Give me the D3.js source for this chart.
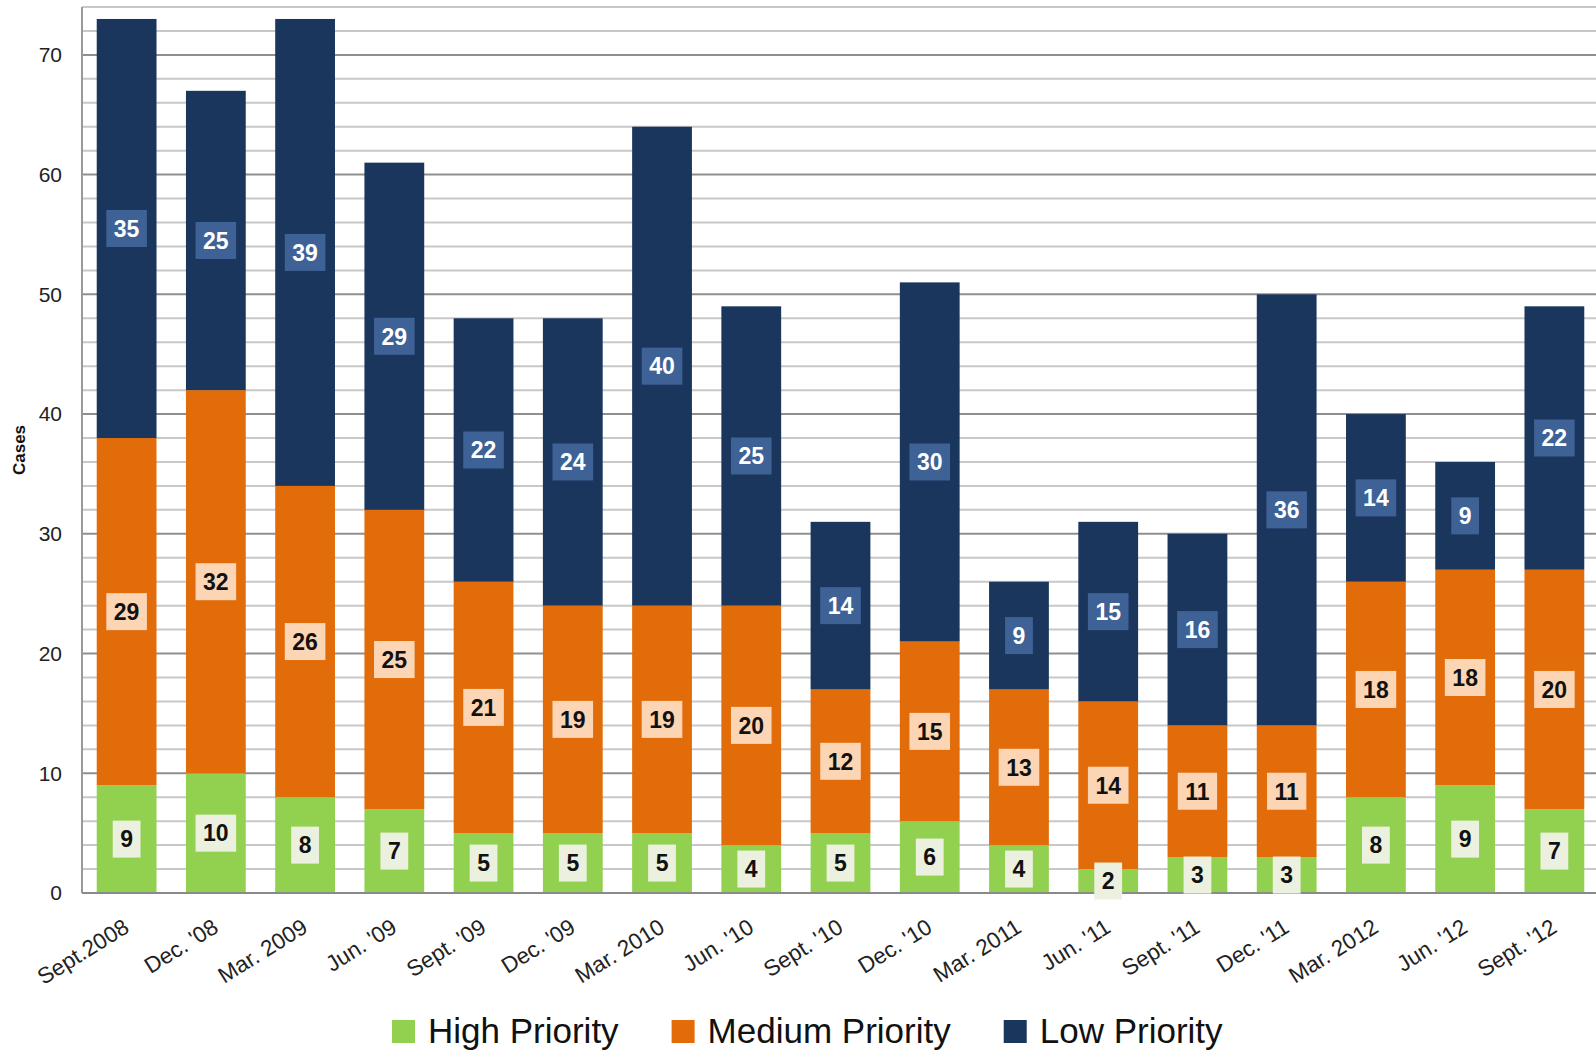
<!DOCTYPE html>
<html>
<head>
<meta charset="utf-8">
<script src="https://cdn.jsdelivr.net/npm/d3@7"></script>
<style>
  html, body { margin: 0; padding: 0; background: #fff; }
  svg { display: block; }
</style>
</head>
<body>
<svg id="chart" width="1596" height="1058"></svg>
<script>
const categories = ["Sept.2008", "Dec. '08", "Mar. 2009", "Jun. '09", "Sept. '09", "Dec. '09", "Mar. 2010", "Jun. '10", "Sept. '10", "Dec. '10", "Mar. 2011", "Jun. '11", "Sept. '11", "Dec. '11", "Mar. 2012", "Jun. '12", "Sept. '12"];
const highPriority   = [9, 10, 8, 7, 5, 5, 5, 4, 5, 6, 4, 2, 3, 3, 8, 9, 7];
const mediumPriority = [29, 32, 26, 25, 21, 19, 19, 20, 12, 15, 13, 14, 11, 11, 18, 18, 20];
const lowPriority    = [35, 25, 39, 29, 22, 24, 40, 25, 14, 30, 9, 15, 16, 36, 14, 9, 22];
const seriesNames = ["High Priority", "Medium Priority", "Low Priority"];
const yTicks = [0, 10, 20, 30, 40, 50, 60, 70];
const yMax = 74;

(function () {
const colors = { "High Priority": "#92d050", "Medium Priority": "#e36c0a", "Low Priority": "#1b365d" };
const boxFill = { "High Priority": "#ebf1de", "Medium Priority": "#fcd5b4", "Low Priority": "#3e6296" };
const labelColor = { "High Priority": "#111", "Medium Priority": "#111", "Low Priority": "#fff" };

const rows = categories.map((c, i) => ({
  cat: c,
  "High Priority": highPriority[i],
  "Medium Priority": mediumPriority[i],
  "Low Priority": lowPriority[i]
}));
const stacked = d3.stack().keys(seriesNames)(rows);

const svg = d3.select("#chart");
const mLeft = 82, mRight = 1599, mTop = 7, mBottom = 893;
const W = 1596;

const x = d3.scaleBand().domain(categories).range([mLeft, mRight]).paddingInner(0.33).paddingOuter(0.165);
const y = d3.scaleLinear().domain([0, yMax]).range([mBottom, mTop]);

// gridlines
const minorVals = d3.range(0, yMax + 1, 2).filter(v => v % 10 !== 0);
svg.append("g").selectAll("line").data(minorVals).join("line")
  .attr("x1", mLeft).attr("x2", W)
  .attr("y1", d => y(d)).attr("y2", d => y(d))
  .attr("stroke", "#c8c8c8").attr("stroke-width", 2);
svg.append("g").selectAll("line").data(yTicks.filter(v => v > 0)).join("line")
  .attr("x1", mLeft).attr("x2", W)
  .attr("y1", d => y(d)).attr("y2", d => y(d))
  .attr("stroke", "#8f8f8f").attr("stroke-width", 2);

// left axis line
svg.append("line").attr("x1", mLeft).attr("x2", mLeft).attr("y1", y(yMax)).attr("y2", mBottom)
  .attr("stroke", "#999").attr("stroke-width", 2);

// bars
const layers = svg.append("g").selectAll("g").data(stacked).join("g")
  .attr("fill", d => colors[d.key]);
layers.selectAll("rect").data(d => d.map(p => ({ p, key: d.key }))).join("rect")
  .attr("x", d => x(d.p.data.cat))
  .attr("width", x.bandwidth())
  .attr("y", d => y(d.p[1]))
  .attr("height", d => y(d.p[0]) - y(d.p[1]));

// bottom axis line
svg.append("line").attr("x1", mLeft).attr("x2", W).attr("y1", mBottom).attr("y2", mBottom)
  .attr("stroke", "#8a8a8a").attr("stroke-width", 2);

// y axis
const yAxis = d3.axisLeft(y).tickValues(yTicks).tickSize(0).tickPadding(20);
const ya = svg.append("g").attr("transform", `translate(${mLeft},0)`).call(yAxis);
ya.select(".domain").remove();
ya.selectAll("text")
  .attr("font-family", "'Liberation Sans', Arial, sans-serif")
  .attr("font-size", 21).attr("fill", "#222");

svg.append("text")
  .attr("transform", "translate(25,450) rotate(-90)")
  .attr("text-anchor", "middle")
  .attr("font-family", "'Liberation Sans', Arial, sans-serif")
  .attr("font-weight", "bold").attr("font-size", 17).attr("fill", "#111")
  .text("Cases");

// x axis labels
const xAxis = d3.axisBottom(x).tickSize(0).tickPadding(0);
const xa = svg.append("g").attr("transform", `translate(0,${mBottom})`).call(xAxis);
xa.select(".domain").remove();
xa.selectAll("text")
  .attr("font-family", "'Liberation Sans', Arial, sans-serif")
  .attr("font-size", 22.5).attr("fill", "#222")
  .attr("text-anchor", "end")
  .attr("dy", 0)
  .attr("y", 0)
  .attr("transform", "translate(4,38) rotate(-32)");

// data labels
const labels = svg.append("g");
stacked.forEach(layer => {
  layer.forEach(p => {
    const v = p[1] - p[0];
    const cx = x(p.data.cat) + x.bandwidth() / 2;
    const cy = y((p[0] + p[1]) / 2);
    const g = labels.append("g");
    const rect = g.append("rect").attr("fill", boxFill[layer.key]);
    const t = g.append("text")
      .attr("x", cx).attr("y", cy).attr("dy", "0.36em")
      .attr("text-anchor", "middle")
      .attr("font-family", "'Liberation Sans', Arial, sans-serif")
      .attr("font-weight", "bold").attr("font-size", 23)
      .attr("fill", labelColor[layer.key])
      .text(v);
    const w = t.node().getComputedTextLength() + 15;
    const h = 37;
    rect.attr("x", cx - w / 2).attr("y", cy - h / 2).attr("width", w).attr("height", h);
  });
});

// legend
const legend = svg.append("g");
let lx = 392;
seriesNames.forEach(name => {
  const g = legend.append("g");
  g.append("rect").attr("x", lx).attr("y", 1020).attr("width", 23).attr("height", 23)
    .attr("fill", colors[name]);
  const t = g.append("text").attr("x", lx + 36).attr("y", 1043)
    .attr("font-family", "'Liberation Sans', Arial, sans-serif")
    .attr("font-size", 35).attr("fill", "#111")
    .text(name);
  lx = lx + 36 + t.node().getComputedTextLength() + 53;
});
})();
</script>
</body>
</html>
